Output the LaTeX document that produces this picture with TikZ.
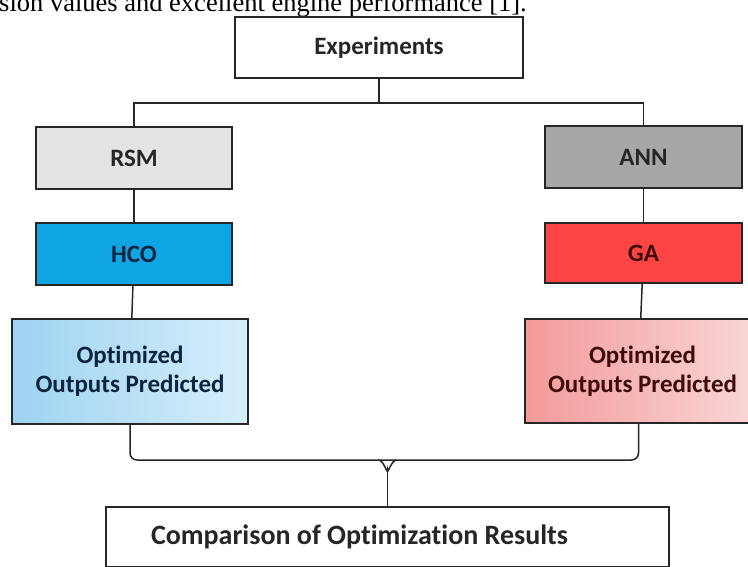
\documentclass[tikz,border=0pt]{standalone}
\usepackage{fontspec}
\setmainfont{Carlito}[Ligatures=NoCommon]
\newfontfamily\capfont{Liberation Serif}
\usepackage{tikz}
\usetikzlibrary{positioning, calc}
\definecolor{edgec}{HTML}{262626}
\definecolor{rsmc}{HTML}{E4E4E4}
\definecolor{annc}{HTML}{A8A6A6}
\definecolor{hcoc}{HTML}{0FA5E3}
\definecolor{gac}{HTML}{FF4444}
\definecolor{navyc}{HTML}{0B2540}
\definecolor{marc}{HTML}{3E0A0A}
\definecolor{lbla}{HTML}{9ED3F2}
\definecolor{lblb}{HTML}{D6EEFA}
\definecolor{lpka}{HTML}{F39A9A}
\definecolor{lpkb}{HTML}{FAD6D6}

\begin{document}
\begin{tikzpicture}[x=1pt, y=-1pt, font=\bfseries\fontsize{25}{29}\selectfont,
          bx/.style={rectangle, draw=edgec, line width=1.8pt, inner sep=0pt, align=center, text=black!85},
          lk/.style={draw=black!85, line width=1.5pt}]
        \useasboundingbox (0,0) rectangle (748,566);
        % caption line cut off above the figure
        \node[anchor=base west, inner sep=0pt, font=\capfont\fontsize{26.5}{28}\selectfont] (cap) at (-1,11) {sion values and excellent engine performance [1].};
        \node[bx, fill=white, minimum width=288pt, minimum height=61pt] (exp) at (379,47.5) {Experiments};
        \node[bx, fill=rsmc, minimum width=196pt, minimum height=62pt] (rsm) at (134,158) {RSM};
        \node[bx, fill=hcoc, text=navyc, minimum width=196pt, minimum height=62pt] (hco) at (134,254) {HCO};
        \node[bx, left color=lbla, right color=lblb, text=navyc, minimum width=236pt, minimum height=105pt] (lo) at (130,371.5) {Optimized\\Outputs Predicted};
        \node[bx, fill=annc, minimum width=197pt, minimum height=62pt] (ann) at (643.5,157) {ANN};
        \node[bx, fill=gac, text=marc, minimum width=197pt, minimum height=60pt] (ga) at (643.5,253) {GA};
        \node[bx, left color=lpka, right color=lpkb, text=marc, minimum width=227pt, minimum height=104pt] (ro) at (638.5,371) {\hspace*{8pt}Optimized\\\hspace*{8pt}Outputs Predicted};
        \node[bx, fill=white, minimum width=563pt, minimum height=60pt, font=\bfseries\fontsize{28}{30}\selectfont] (cmp) at (387.5,537) {Comparison of Optimization Results\hspace*{56pt}};
        \coordinate (tj) at (379,103); \coordinate (mj) at (387.5,460);
        \draw[lk] (exp.south) -- (tj); \draw[lk] (rsm.north) |- (tj) -| (ann.north);
        \draw[lk] (rsm) -- (hco); \draw[lk] (hco) -- (lo); \draw[lk] (ann) -- (ga); \draw[lk] (ga) -- (ro);
        \draw[lk, rounded corners=7pt] (lo.south) |- (mj) -| (ro.south);
        \draw[lk] ($(mj)+(-9,0)$) to[out=0, in=-90] ($(mj)+(0,10)$) to[out=-90, in=180] ($(mj)+(9,0)$);
        \draw[lk] ($(mj)+(0,10)$) -- (cmp.north);
      \end{tikzpicture}
\end{document}
